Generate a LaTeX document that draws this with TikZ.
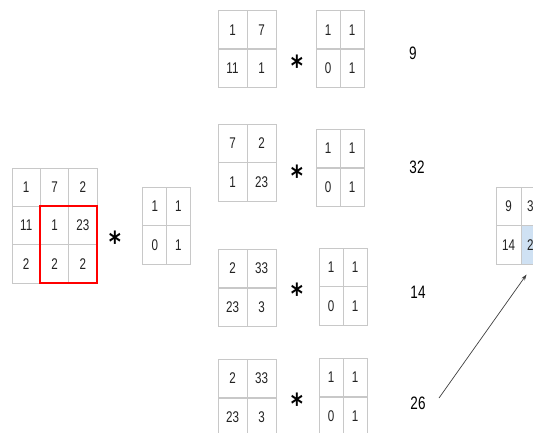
\documentclass[tikz,border=0pt]{standalone}
\usepackage{fontspec}
\setmainfont[FakeStretch=0.75]{Liberation Sans}
\newfontfamily\starfont[FakeStretch=0.8]{DejaVu Sans}
\usetikzlibrary{arrows.meta}
\definecolor{gridgray}{HTML}{C8C8C8}
\definecolor{numcol}{HTML}{222222}
\definecolor{cellblue}{HTML}{CFE1F3}
\tikzset{
  cell/.style={draw=gridgray, line width=0.9pt, inner sep=0pt, text=numcol,
    font=\fontsize{15.5}{15.5}\selectfont},
  bigc/.style={cell, minimum width=28.3pt, minimum height=38.3pt},
  smc/.style={cell, minimum width=29pt, minimum height=38.5pt},
  kc/.style={cell, minimum width=24pt, minimum height=38.5pt},
  rc/.style={cell, minimum width=25pt, minimum height=38.5pt},
  res/.style={text=black, font=\fontsize{18}{18}\selectfont},
  op/.style={anchor=base, inner sep=0pt, font=\starfont\bfseries\fontsize{29}{29}\selectfont},
}
\begin{document}
\begin{tikzpicture}[x=1pt,y=-1pt]
\useasboundingbox (0,0) rectangle (533,432);
\clip (0,0) rectangle (533,432);
\fill[white] (0,0) rectangle (533,432);
% big input grid
\node[bigc] (b11) at (26.2,187.2) {1};
\node[bigc] (b12) at (54.5,187.2) {7};
\node[bigc] (b13) at (82.8,187.2) {2};
\node[bigc] (b21) at (26.2,225.5) {11};
\node[bigc] (b22) at (54.5,225.5) {1};
\node[bigc] (b23) at (82.8,225.5) {23};
\node[bigc] (b31) at (26.2,263.8) {2};
\node[bigc] (b32) at (54.5,263.8) {2};
\node[bigc] (b33) at (82.8,263.8) {2};
\draw[red, line width=2pt] (b22.north west) rectangle (b33.south east);
\node[op] (s0) at (115,252) {*};
% kernel 0
\node[kc] (k011) at (154.75,206.25) {1};
\node[kc] (k012) at (178.25,206.25) {1};
\node[kc] (k021) at (154.75,244.75) {0};
\node[kc] (k022) at (178.25,244.75) {1};
% block 1
\node[smc] (a111) at (232.5,30) {1};
\node[smc] (a112) at (261.5,30) {7};
\node[smc] (a121) at (232.5,68) {11};
\node[smc] (a122) at (261.5,68) {1};
\node[op] (s1) at (297,76) {*};
\node[kc] (k111) at (328,30) {1};
\node[kc] (k112) at (352,30) {1};
\node[kc] (k121) at (328,68) {0};
\node[kc] (k122) at (352,68) {1};
\node[res] (r1) at (413,53) {9};
% block 2
\node[smc] (a211) at (232.5,143.25) {7};
\node[smc] (a212) at (261.5,143.25) {2};
\node[smc] (a221) at (232.5,181.75) {1};
\node[smc] (a222) at (261.5,181.75) {23};
\node[op] (s2) at (297,186) {*};
\node[kc] (k211) at (328,148.5) {1};
\node[kc] (k212) at (352,148.5) {1};
\node[kc] (k221) at (328,187.5) {0};
\node[kc] (k222) at (352,187.5) {1};
\node[res] (r2) at (417,167) {32};
% block 3
\node[smc] (a311) at (232.5,268.5) {2};
\node[smc] (a312) at (261.5,268.5) {33};
\node[smc] (a321) at (232.5,307.5) {23};
\node[smc] (a322) at (261.5,307.5) {3};
\node[op] (s3) at (297,304) {*};
\node[kc] (k311) at (331,267.25) {1};
\node[kc] (k312) at (355,267.25) {1};
\node[kc] (k321) at (331,305.75) {0};
\node[kc] (k322) at (355,305.75) {1};
\node[res] (r3) at (418,292) {14};
% block 4
\node[smc] (a411) at (232.5,378.5) {2};
\node[smc] (a412) at (261.5,378.5) {33};
\node[smc] (a421) at (232.5,417.5) {23};
\node[smc] (a422) at (261.5,417.5) {3};
\node[op] (s4) at (297,414) {*};
\node[kc] (k411) at (331,377.5) {1};
\node[kc] (k412) at (355,377.5) {1};
\node[kc] (k421) at (331,416.5) {0};
\node[kc] (k422) at (355,416.5) {1};
\node[res] (r4) at (418,403) {26};
% result grid
\node[rc] (o11) at (508.5,206.5) {9};
\node[rc] (o12) at (533.5,206.5) {32};
\node[rc] (o21) at (508.5,245) {14};
\node[rc, fill=cellblue] (o22) at (533.5,245) {26};
% arrow
\coordinate (astart) at (439,398);
\draw[-{Stealth[length=6pt,width=4pt]}, draw=black!75, line width=0.7pt, shorten >=12pt] (astart) -- (o22.south);
\end{tikzpicture}
\end{document}
